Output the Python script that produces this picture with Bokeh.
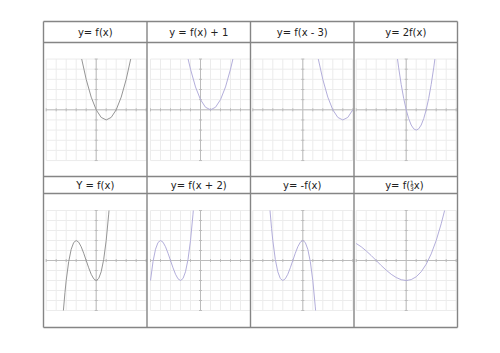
from bokeh.plotting import figure
from bokeh.models import Range1d
from bokeh.embed import file_html
from bokeh.resources import INLINE
from bokeh.core.properties import value

# ---------------- data ----------------
titles = ["y= f(x)", "y = f(x) + 1", "y= f(x - 3)", "y= 2f(x)",
          "Y = f(x)", "y= f(x + 2)", "y= -f(x)", None]

p1_x = [-1.45, -1.0, -0.5, 0.0, 0.5, 1.0, 1.5, 2.0, 2.5, 3.0, 3.45]
p1_y = [5.0, 3.0, 1.25, 0.0, -0.75, -1.0, -0.75, 0.0, 1.25, 3.0, 5.0]

p2_x = [-1.24, -1.0, -0.5, 0.0, 0.5, 1.0, 1.5, 2.0, 2.5, 3.0, 3.24]
p2_y = [5.0, 4.0, 2.25, 1.0, 0.25, 0.0, 0.25, 1.0, 2.25, 4.0, 5.0]

p3_x = [1.55, 2.0, 2.5, 3.0, 3.5, 4.0, 4.5, 5.0]
p3_y = [5.0, 3.0, 1.25, 0.0, -0.75, -1.0, -0.75, 0.0]

p4_x = [-0.87, -0.75, -0.5, -0.25, 0.0, 0.25, 0.5, 0.75, 1.0, 1.25, 1.5,
        1.75, 2.0, 2.25, 2.5, 2.75, 2.87]
p4_y = [5.0, 4.125, 2.5, 1.125, 0.0, -0.875, -1.5, -1.875, -2.0, -1.875,
        -1.5, -0.875, 0.0, 1.125, 2.5, 4.125, 5.0]

p5_x = [-3.28, -3.125, -3.0, -2.75, -2.5, -2.25, -2.0, -1.75, -1.5, -1.25,
        -1.0, -0.75, -0.5, -0.25, 0.0, 0.25, 0.5, 0.75, 1.0, 1.25, 1.28]
p5_y = [-5.0, -3.22, -2.0, -0.11, 1.125, 1.80, 2.0, 1.83, 1.375, 0.73,
        0.0, -0.73, -1.375, -1.83, -2.0, -1.80, -1.125, 0.11, 2.0, 4.64, 5.0]

p6_x = [-5.0, -4.75, -4.5, -4.25, -4.0, -3.75, -3.5, -3.25, -3.0, -2.75,
        -2.5, -2.25, -2.0, -1.75, -1.5, -1.25, -1.0, -0.75, -0.72]
p6_y = [-2.0, -0.11, 1.125, 1.80, 2.0, 1.83, 1.375, 0.73, 0.0, -0.73,
        -1.375, -1.83, -2.0, -1.80, -1.125, 0.11, 2.0, 4.64, 5.0]

p7_x = [-3.28, -3.125, -3.0, -2.75, -2.5, -2.25, -2.0, -1.75, -1.5, -1.25,
        -1.0, -0.75, -0.5, -0.25, 0.0, 0.25, 0.5, 0.75, 1.0, 1.25, 1.28]
p7_y = [5.0, 3.22, 2.0, 0.11, -1.125, -1.80, -2.0, -1.83, -1.375, -0.73,
        0.0, 0.73, 1.375, 1.83, 2.0, 1.80, 1.125, -0.11, -2.0, -4.64, -5.0]

p8_x = [-5.0, -4.5, -4.0, -3.5, -3.0, -2.5, -2.0, -1.5, -1.0, -0.5, 0.0,
        0.5, 1.0, 1.5, 2.0, 2.5, 3.0, 3.5, 3.84]
p8_y = [1.70, 1.375, 0.96, 0.50, 0.0, -0.50, -0.96, -1.375, -1.70, -1.92,
        -2.0, -1.91, -1.63, -1.125, -0.37, 0.66, 2.0, 3.67, 5.0]

curves_x = [p1_x, p2_x, p3_x, p4_x, p5_x, p6_x, p7_x, p8_x]
curves_y = [p1_y, p2_y, p3_y, p4_y, p5_y, p6_y, p7_y, p8_y]

grid_ticks = [-5, -4, -3, -2, -1, 0, 1, 2, 3, 4, 5]

# ---------------- layout / style ----------------
W, H = 500, 353
T_L, T_R, T_T, T_B = 43, 457, 21, 327
col_lines = [146.5, 250, 353.5]
row_lines = [42, 176, 193]
col_axis_px = [95.7, 200.0, 302.3, 405.7]
row_axis_px = [109.3, 260.0]
sx = 10.0
sy = [10.15, 10.0]
header_y = [31.5, 185.0]
col_centers = [94.75, 198.25, 301.75, 405.25]

GRID_C = "#ececec"
AXIS_C = "#bcbcbc"
GRAY_C = "#959595"
LAV_C = "#b3aedb"
BORDER_C = "#858585"
curve_colors = [GRAY_C, LAV_C, LAV_C, LAV_C, GRAY_C, LAV_C, LAV_C, LAV_C]

p = figure(width=W, height=H, x_range=Range1d(0, W), y_range=Range1d(H, 0),
           output_backend="svg", toolbar_location=None, min_border=0,
           x_axis_location=None, y_axis_location=None)
p.grid.visible = False
p.outline_line_color = None
p.background_fill_color = "white"
p.border_fill_color = "white"

# extra ranges so each panel has its own data scale
for c in range(4):
    ax = col_axis_px[c]
    p.extra_x_ranges["c%d" % c] = Range1d(-ax / sx, (W - ax) / sx)
for r in range(2):
    ay = row_axis_px[r]
    p.extra_y_ranges["r%d" % r] = Range1d(-(H - ay) / sy[r], ay / sy[r])

lo, hi = grid_ticks[0], grid_ticks[-1]
for i in range(8):
    r, c = divmod(i, 4)
    xr, yr = "c%d" % c, "r%d" % r
    # grid
    p.segment(x0=grid_ticks, y0=[lo] * len(grid_ticks), x1=grid_ticks, y1=[hi] * len(grid_ticks),
              line_color=GRID_C, line_width=1, x_range_name=xr, y_range_name=yr)
    p.segment(x0=[lo] * len(grid_ticks), y0=grid_ticks, x1=[hi] * len(grid_ticks), y1=grid_ticks,
              line_color=GRID_C, line_width=1, x_range_name=xr, y_range_name=yr)
    # axes
    p.segment(x0=[lo, 0], y0=[0, lo], x1=[hi, 0], y1=[0, hi],
              line_color=AXIS_C, line_width=1, x_range_name=xr, y_range_name=yr)
    # tick marks
    tk = [t for t in grid_ticks if t != 0]
    p.segment(x0=tk, y0=[-0.15] * len(tk), x1=tk, y1=[0.15] * len(tk),
              line_color=AXIS_C, line_width=1, x_range_name=xr, y_range_name=yr)
    p.segment(x0=[-0.15] * len(tk), y0=tk, x1=[0.15] * len(tk), y1=tk,
              line_color=AXIS_C, line_width=1, x_range_name=xr, y_range_name=yr)
    # curve
    p.line(curves_x[i], curves_y[i], line_color=curve_colors[i], line_width=1.0,
           line_join="round", x_range_name=xr, y_range_name=yr)

# table lines
p.segment(x0=[T_L, T_L] + [T_L] * len(row_lines) + [T_L, T_R] + col_lines,
          y0=[T_T, T_B] + row_lines + [T_T, T_T] + [T_T] * len(col_lines),
          x1=[T_R, T_R] + [T_R] * len(row_lines) + [T_L, T_R] + col_lines,
          y1=[T_T, T_B] + row_lines + [T_B, T_B] + [T_B] * len(col_lines),
          line_color=BORDER_C, line_width=1.4)

# headers
hx, hy, ht = [], [], []
for i in range(8):
    if titles[i] is None:
        continue
    r, c = divmod(i, 4)
    hx.append(col_centers[c]); hy.append(header_y[r]); ht.append(titles[i])
p.text(x=hx, y=hy, text=ht, text_align="center", text_baseline="middle",
       text_font=value("DejaVu Sans"), text_font_size="10px", text_color="#222222")

# header with stacked fraction: y= f(1/3 x)
p.text(x=[409.6], y=[185.0], text=["y= f("], text_align="right", text_baseline="middle",
       text_font=value("DejaVu Sans"), text_font_size="10px", text_color="#222222")
p.text(x=[411.4, 411.4], y=[182.2, 188.0], text=["1", "3"], text_align="center",
       text_baseline="middle", text_font=value("DejaVu Sans"), text_font_size="6px",
       text_color="#222222")
p.segment(x0=[409.9], y0=[185.1], x1=[412.9], y1=[185.1], line_color="#444444", line_width=0.6)
p.text(x=[413.3], y=[185.0], text=["x)"], text_align="left", text_baseline="middle",
       text_font=value("DejaVu Sans"), text_font_size="10px", text_color="#222222")

open("out.html", "w").write(file_html(p, INLINE))
